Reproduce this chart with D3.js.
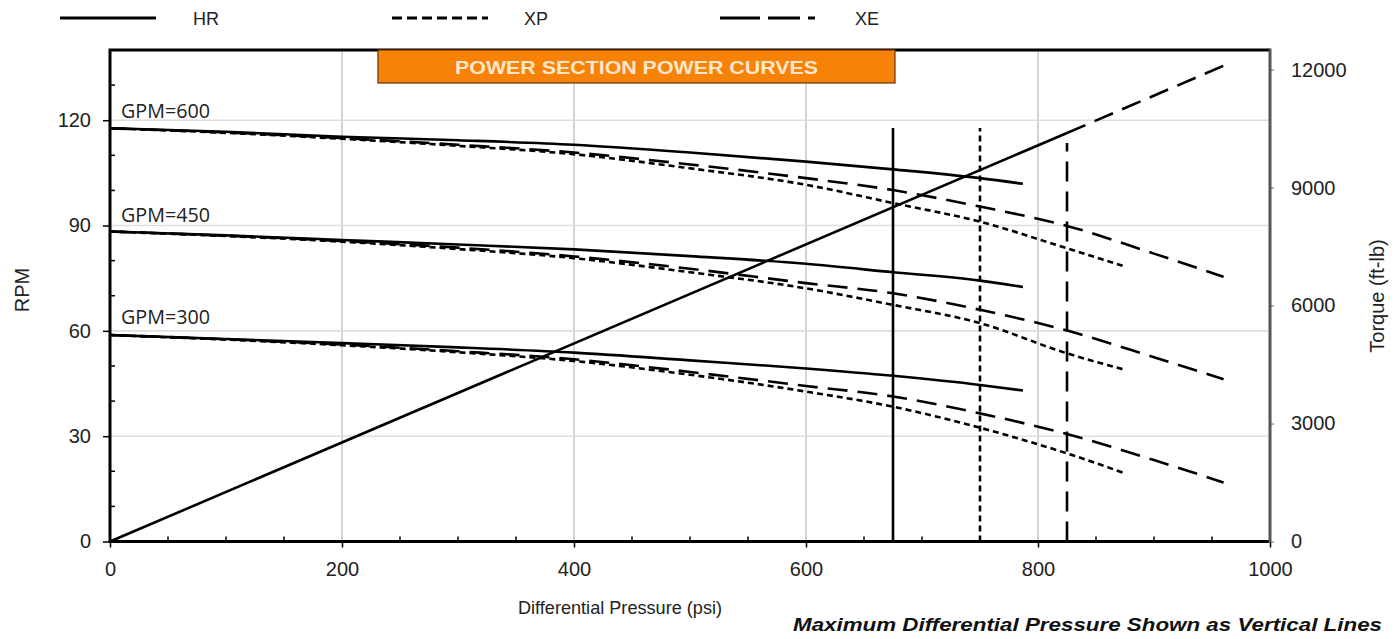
<!DOCTYPE html>
<html>
<head>
<meta charset="utf-8">
<script src="https://cdn.jsdelivr.net/npm/d3@7"></script>
<style>
  html, body { margin: 0; padding: 0; background: #fff; }
  svg { display: block; }
  text { font-family: "Liberation Sans", Arial, sans-serif; }
</style>
</head>
<body>
<svg id="chart" width="1398" height="639"></svg>
<script>
// ---------- data ----------
const psiHR = [0, 100, 200, 300, 400, 500, 600, 675, 750, 787];
const psiXP = [0, 100, 200, 300, 400, 500, 600, 675, 750, 825, 875];
const psiXE = [0, 100, 200, 300, 400, 500, 600, 675, 750, 825, 900, 960];

const hr600 = [117.7, 116.7, 115.3, 114.3, 113.0, 110.8, 108.2, 106.0, 103.5, 101.9];
const hr450 = [88.3, 87.2, 85.9, 84.6, 83.2, 81.3, 79.1, 76.7, 74.3, 72.5];
const hr300 = [58.8, 57.7, 56.5, 55.3, 53.8, 51.6, 49.3, 47.2, 44.6, 43.0];

const xp600 = [117.7, 116.4, 114.7, 112.7, 110.3, 106.3, 101.6, 96.4, 91.1, 83.5, 78.3];
const xp450 = [88.3, 87.0, 85.4, 83.3, 80.7, 76.7, 72.1, 67.4, 62.2, 53.6, 48.9];
const xp300 = [58.8, 57.5, 55.9, 53.9, 51.4, 47.5, 42.7, 38.4, 32.4, 25.1, 19.4];

const xe600 = [117.7, 116.5, 114.9, 113.0, 110.8, 107.4, 103.5, 100.1, 95.4, 89.9, 82.0, 75.4];
const xe450 = [88.3, 87.1, 85.6, 83.7, 81.2, 77.7, 73.6, 70.7, 66.0, 60.1, 52.5, 46.2];
const xe300 = [58.8, 57.6, 56.1, 54.2, 51.9, 48.3, 44.3, 41.3, 36.5, 30.6, 23.2, 16.8];

const torquePsi = [0, 825, 960];
const torqueFtlb = [0, 10390, 12100];

const motorTypes = ["HR", "XP", "XE"];
const maxPsi = [675, 750, 825];
const maxLineTopRpm = [117.8, 117.8, 113.5];

const gpmLabels = ["GPM=600", "GPM=450", "GPM=300"];
const gpmLabelRpm = [120.6, 91.1, 62.0];

const xTicks = [0, 200, 400, 600, 800, 1000];
const rpmTicks = [0, 30, 60, 90, 120];
const torqueTicks = [0, 3000, 6000, 9000, 12000];

// ---------- setup ----------
const svg = d3.select("#chart");
const L = 110, R = 1270, T = 50, B = 541.5;
const x = d3.scaleLinear().domain([0, 1000]).range([L, R]);
const yL = d3.scaleLinear().domain([0, 140]).range([B, T]);
const yR = d3.scaleLinear().domain([0, 12500]).range([B, T]);

const dashes = { HR: null, XP: "6,4", XE: "20,10" };
const narrow = "'Liberation Sans Narrow', 'Arial Narrow', 'Liberation Sans', Arial, sans-serif";

// gridlines
svg.append("g").selectAll("line").data([200, 400, 600, 800]).join("line")
  .attr("x1", d => x(d)).attr("x2", d => x(d)).attr("y1", T).attr("y2", B)
  .attr("stroke", "#bdbdbd").attr("stroke-width", 1.3);
svg.append("g").selectAll("line").data([30, 60, 90, 120]).join("line")
  .attr("x1", L).attr("x2", R).attr("y1", d => yL(d)).attr("y2", d => yL(d))
  .attr("stroke", "#dedede").attr("stroke-width", 1.6);

// curves
const line = d3.line().x(d => x(d[0])).y(d => yL(d[1])).curve(d3.curveMonotoneX);
const curves = [
  { t: "HR", psi: psiHR, v: hr600 }, { t: "HR", psi: psiHR, v: hr450 }, { t: "HR", psi: psiHR, v: hr300 },
  { t: "XP", psi: psiXP, v: xp600 }, { t: "XP", psi: psiXP, v: xp450 }, { t: "XP", psi: psiXP, v: xp300 },
  { t: "XE", psi: psiXE, v: xe600 }, { t: "XE", psi: psiXE, v: xe450 }, { t: "XE", psi: psiXE, v: xe300 }
];
svg.append("g").selectAll("path").data(curves).join("path")
  .attr("d", c => line(c.psi.map((p, i) => [p, c.v[i]])))
  .attr("fill", "none").attr("stroke", "#000").attr("stroke-width", 2.6)
  .attr("stroke-dasharray", c => dashes[c.t]);

// max pressure vertical lines
svg.append("g").selectAll("line").data(maxPsi).join("line")
  .attr("x1", d => x(d)).attr("x2", d => x(d))
  .attr("y1", B).attr("y2", (d, i) => yL(maxLineTopRpm[i]))
  .attr("stroke", "#000").attr("stroke-width", 2.6)
  .attr("stroke-dasharray", (d, i) => dashes[motorTypes[i]]);

// torque line
const tline = d3.line().x(d => x(d[0])).y(d => yR(d[1]));
svg.append("path")
  .attr("d", tline([[torquePsi[0], torqueFtlb[0]], [torquePsi[1], torqueFtlb[1]]]))
  .attr("fill", "none").attr("stroke", "#000").attr("stroke-width", 2.6);
svg.append("path")
  .attr("d", tline([[torquePsi[1], torqueFtlb[1]], [torquePsi[2], torqueFtlb[2]]]))
  .attr("fill", "none").attr("stroke", "#000").attr("stroke-width", 2.6)
  .attr("stroke-dasharray", "20,10");

// minor ticks (inside)
svg.append("g").selectAll("line").data(d3.range(50, 1000, 50).filter(v => v % 200 !== 0)).join("line")
  .attr("x1", d => x(d)).attr("x2", d => x(d)).attr("y1", B).attr("y2", B - 5)
  .attr("stroke", "#000").attr("stroke-width", 1.5);
svg.append("g").selectAll("line").data(d3.range(10, 140, 10).filter(v => v % 30 !== 0)).join("line")
  .attr("x1", L).attr("x2", L + 5).attr("y1", d => yL(d)).attr("y2", d => yL(d))
  .attr("stroke", "#000").attr("stroke-width", 1.5);

// axes
const fmt = d3.format("d");
const axB = svg.append("g").attr("transform", `translate(0,${B})`)
  .call(d3.axisBottom(x).tickValues(xTicks).tickFormat(fmt).tickSize(6).tickPadding(14));
const axL = svg.append("g").attr("transform", `translate(${L},0)`)
  .call(d3.axisLeft(yL).tickValues(rpmTicks).tickFormat(fmt).tickSize(7).tickPadding(12));
const axR = svg.append("g").attr("transform", `translate(${R},0)`)
  .call(d3.axisRight(yR).tickValues(torqueTicks).tickFormat(fmt).tickSize(4).tickPadding(17));
[axB, axL, axR].forEach(a => {
  a.select(".domain").remove();
  a.selectAll("text").style("font-family", "'Liberation Sans', Arial, sans-serif")
    .style("font-size", "20px").style("fill", "#222");
  a.selectAll(".tick line").attr("stroke", "#000").attr("stroke-width", 1.5);
});
axR.selectAll(".tick line").attr("stroke", "#999");

// frame
svg.append("path")
  .attr("d", `M${R},${T}H${L}V${B}H${R}`)
  .attr("fill", "none").attr("stroke", "#000").attr("stroke-width", 3);
svg.append("line").attr("x1", R).attr("x2", R).attr("y1", T - 1.5).attr("y2", B + 1.5)
  .attr("stroke", "#555").attr("stroke-width", 3);

// title box
svg.append("rect").attr("x", 378).attr("y", 50).attr("width", 517).attr("height", 33)
  .attr("fill", "#f68208").attr("stroke", "#6b3000").attr("stroke-width", 1.2);
svg.append("text").attr("x", 455).attr("y", 74)
  .attr("textLength", 363).attr("lengthAdjust", "spacingAndGlyphs")
  .style("font-family", narrow)
  .style("font-size", "19px").style("font-weight", "bold").style("fill", "#fde6cc")
  .text("POWER SECTION POWER CURVES");

// GPM labels
svg.append("g").selectAll("text").data(gpmLabels).join("text")
  .attr("x", 121).attr("y", (d, i) => yL(gpmLabelRpm[i]))
  .attr("textLength", 89).attr("lengthAdjust", "spacingAndGlyphs")
  .style("font-family", "'Open Sans', 'Noto Sans', sans-serif").style("font-size", "20px")
  .style("fill", "#222").text(d => d);

// legend
const legendX = [60, 392, 720];
const legendTextX = [193, 524, 855];
const legendDash = [null, "10,5", "40,8,32,8,7,20"];
svg.append("g").selectAll("line").data(motorTypes).join("line")
  .attr("x1", (d, i) => legendX[i]).attr("x2", (d, i) => legendX[i] + 96)
  .attr("y1", 18).attr("y2", 18)
  .attr("stroke", "#000").attr("stroke-width", 2.8)
  .attr("stroke-dasharray", (d, i) => legendDash[i]);
svg.append("g").selectAll("text").data(motorTypes).join("text")
  .attr("x", (d, i) => legendTextX[i]).attr("y", 25)
  .style("font-family", narrow)
  .style("font-size", "18px").style("fill", "#222").text(d => d);

// axis titles
svg.append("text").attr("transform", "translate(29,290) rotate(-90)").attr("text-anchor", "middle")
  .style("font-size", "20px").style("fill", "#222").text("RPM");
svg.append("text").attr("transform", "translate(1384,296) rotate(-90)").attr("text-anchor", "middle")
  .style("font-size", "20px").style("fill", "#222").text("Torque (ft-lb)");
svg.append("text").attr("x", 620).attr("y", 614).attr("text-anchor", "middle")
  .attr("textLength", 204).attr("lengthAdjust", "spacingAndGlyphs")
  .style("font-family", narrow)
  .style("font-size", "19px").style("fill", "#222").text("Differential Pressure (psi)");
svg.append("text").attr("x", 793).attr("y", 631)
  .attr("textLength", 589).attr("lengthAdjust", "spacingAndGlyphs")
  .style("font-family", narrow)
  .style("font-size", "19px").style("font-weight", "bold").style("font-style", "italic")
  .style("fill", "#111").text("Maximum Differential Pressure Shown as Vertical Lines");
</script>
</body>
</html>
